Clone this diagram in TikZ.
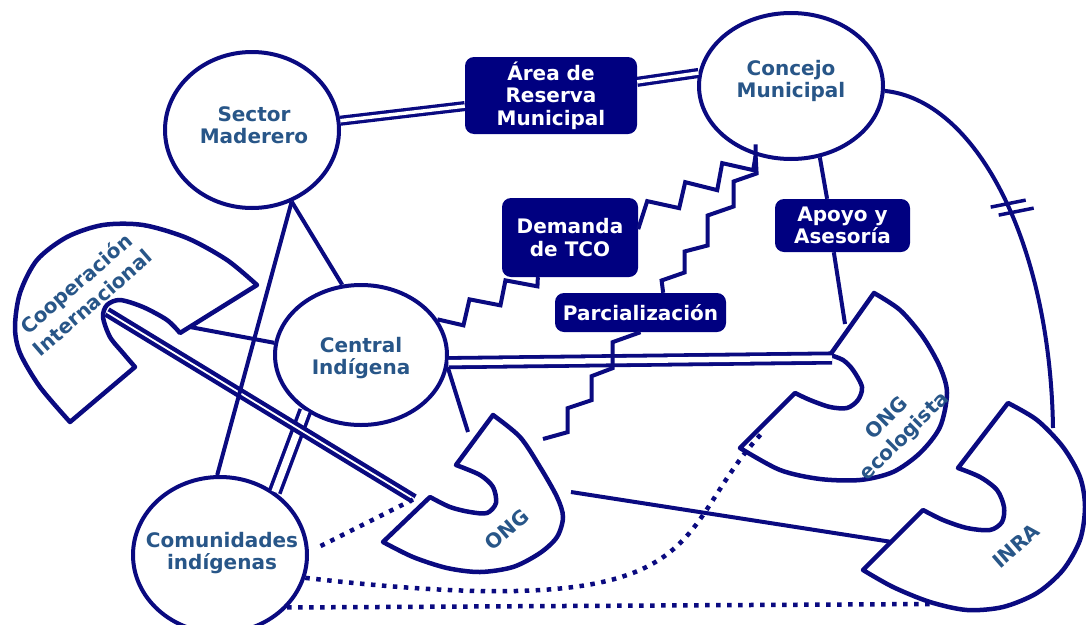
\documentclass[tikz,border=0pt]{standalone}
\usepackage{fontspec}
\setmainfont{DejaVu Sans}
\usetikzlibrary{shapes.geometric,calc}

\definecolor{ink}{RGB}{10,10,128}
\definecolor{tagfill}{RGB}{0,0,128}
\definecolor{nameblue}{RGB}{40,86,136}

\tikzset{
  actor/.style={ellipse, draw=ink, line width=4pt, inner sep=0pt},
  nametext/.style={font=\fontsize{20}{22.5}\selectfont\bfseries, text=nameblue, align=center, inner sep=0pt},
  tiltedtext/.style={nametext, font=\fontsize{20}{25}\selectfont\bfseries},
  tagbox/.style={rectangle, rounded corners=9pt, fill=tagfill, text=white,
                 font=\fontsize{20}{22.5}\selectfont\bfseries, align=center, inner sep=0pt},
  link/.style={draw=ink, line width=4pt},
  twin/.style={draw=ink, line width=3.3pt, double=white, double distance=#1},
  twin/.default=4pt,
  dotline/.style={draw=ink, line width=4.5pt, dash pattern=on 4.5pt off 6.5pt},
  pac/.style={draw=ink, line width=4.5pt, line join=round},
}

\begin{document}
\begin{tikzpicture}[x=1pt,y=-1pt]
\useasboundingbox (0,0) rectangle (1086,624);
\fill[white] (0,0) rectangle (1086,624);
\clip (0,0) rectangle (1086,624);

% ---- open-mouthed actors ----
% Cooperación Internacional
\draw[pac] (257,285) -- (180,333)
  -- plot[smooth] coordinates {(180,333) (167,320) (143,307) (120,300) (107,305) (103,317) (110,337) (123,353) (135,367)}
  -- (70,422)
  -- plot[smooth] coordinates {(70,422) (40,387) (20,353) (15,327) (20,293) (37,260) (67,237) (103,225) (143,225) (187,238) (227,260) (257,285)}
  -- cycle;
% ONG
\draw[pac] (493,415)
  -- plot[smooth] coordinates {(493,415) (520,437) (540,467) (557,497) (563,517) (557,537) (540,553) (513,567) (480,572) (447,568) (413,557) (383,542)}
  -- (430,497)
  -- plot[smooth] coordinates {(430,497) (450,507) (470,512) (487,513) (496,503) (493,487) (480,475) (456,465)}
  -- cycle;
% ONG ecologista
\draw[pac] (874,293)
  -- plot[smooth] coordinates {(874,293) (900,310) (923,337) (940,367) (947,393) (940,427) (920,453) (893,472) (860,480) (820,479) (780,470) (740,448)}
  -- (795,393)
  -- plot[smooth] coordinates {(795,393) (810,400) (830,407) (847,408) (858,400) (862,387) (853,370) (843,360) (830,355)}
  -- cycle;
% INRA
\draw[pac] (1008,403)
  -- plot[smooth] coordinates {(1008,403) (1037,420) (1063,447) (1080,477) (1085,507) (1080,540) (1063,570) (1037,593) (1003,607) (967,610) (930,602) (893,587) (863,570)}
  -- (923,510)
  -- plot[smooth] coordinates {(923,510) (943,520) (967,528) (990,530) (1002,522) (1004,507) (997,490) (980,477) (958,468)}
  -- cycle;

\node[tiltedtext, rotate=41] (coop-t) at (84,293) {Cooperación\\Internacional};
\node[nametext, rotate=41] (ong-t) at (507,530) {ONG};
\node[tiltedtext, rotate=45] (eco-t) at (896,428) {ONG\\ecologista};
\node[nametext, rotate=41] (inra-t) at (1016,546) {INRA};

% attachment points on the open shapes
\coordinate (coop-in) at (107,312);
\coordinate (coop-e) at (190,327);
\coordinate (ong-w) at (414,499);
\coordinate (ong-top) at (468,432);
\coordinate (ong-r) at (543,439);
\coordinate (ong-e) at (571,492);
\coordinate (eco-top) at (845,324);
\coordinate (eco-l) at (832,358);
\coordinate (eco-w) at (763,432);
\coordinate (inra-w) at (892,542);
\coordinate (inra-top) at (1053,428);
\coordinate (inra-b) at (935,604);

% ---- round actors ----
\node[actor, minimum width=174pt, minimum height=156pt] (sector) at (252,130) {};
\node[actor, minimum width=184pt, minimum height=146pt] (concejo) at (791,86) {};
\node[actor, minimum width=172pt, minimum height=140pt] (central) at (361,355) {};
\node[actor, minimum width=174pt, minimum height=156pt] (comun) at (220,555) {};

\node[nametext] (sector-t) at (254,125) {Sector\\Maderero};
\node[nametext] (concejo-t) at (791,81) {Concejo\\Municipal};
\node[nametext] (central-t) at (361,358) {Central\\Indígena};
\node[nametext] (comun-t) at (222,553) {Comunidades\\indígenas};

% ---- labels on links ----
\node[tagbox, minimum width=172pt, minimum height=77pt] (area) at (551,95.5) {Área de\\Reserva\\Municipal};
\node[tagbox, minimum width=136pt, minimum height=79pt] (demanda) at (570,237.5) {Demanda\\de TCO};
\node[tagbox, minimum width=171pt, minimum height=39pt] (parcial) at (640.5,312.5) {Parcialización};
\node[tagbox, minimum width=135pt, minimum height=53pt] (apoyo) at (842.5,225.5) {Apoyo y\\Asesoría};

% ---- double links ----
\draw[twin=3.5pt] (sector.6) -- (area.187);
\draw[twin=3.5pt] (area.9) -- (concejo.172);
\draw[twin=5.5pt, line width=3.8pt] (central.-5) -- (eco-l);
\draw[twin=7pt, line width=3.6pt] (central.-135) -- (comun.49);
\draw[draw=ink, line width=4.3pt, double=white, double distance=1.8pt] (coop-in) -- (ong-w);

% ---- single links ----
\draw[link] (sector.-61) -- (comun.92);
\draw[link] (sector.-61) -- (central.105);
\draw[link] (coop-e) -- (central.172);
\draw[link] (central.-8) -- (ong-top);
\draw[link] (concejo.-68) -- (apoyo.120);
\draw[link] (apoyo.252) -- (eco-top);
\draw[link] (ong-e) -- (inra-w);
\draw[link] (concejo.-3) .. controls (975,100) and (1050,240) .. (inra-top) coordinate[pos=0.54] (brk);
\draw[link, line width=3.5pt] ([shift={(-18,0)}]brk) -- ++(35,-7);
\draw[link, line width=3.5pt] ([shift={(-10,8)}]brk) -- ++(35,-7);

% ---- stepped links ----
\draw[link] (central.25) -- ++(26,6) -- ++(6,-26) -- ++(31,6) -- ++(5,-25) -- ++(32,6) -- (demanda.231);
\draw[link] (demanda.7) -- ++(9,-28) -- ++(32,7) -- ++(6,-26) -- ++(32,8) -- ++(5,-27) -- ++(31,7)
  -- (concejo.-117) -- ++(0,-11);
\draw[link] (concejo.-117) -- ++(1,18) -- ++(-23,8) -- ++(0,25) -- ++(-26,9) -- ++(0,30) -- ++(-23,6)
  -- ++(0,21) -- ++(-23,8) -- (parcial.41);
\draw[link] (parcial.south) -- ++(-28,10) -- ++(0,26) -- ++(-21,8) -- ++(0,24) -- ++(-24,8) -- ++(0,24) -- (ong-r);

% ---- dotted links ----
\draw[dotline] (comun.-38) -- (inra-b);
\draw[dotline] (comun.-15) .. controls (727,626) and (665,536) .. (eco-w);
\draw[dotline, shorten <=13pt] (comun.2) -- (ong-w);

\end{tikzpicture}
\end{document}
